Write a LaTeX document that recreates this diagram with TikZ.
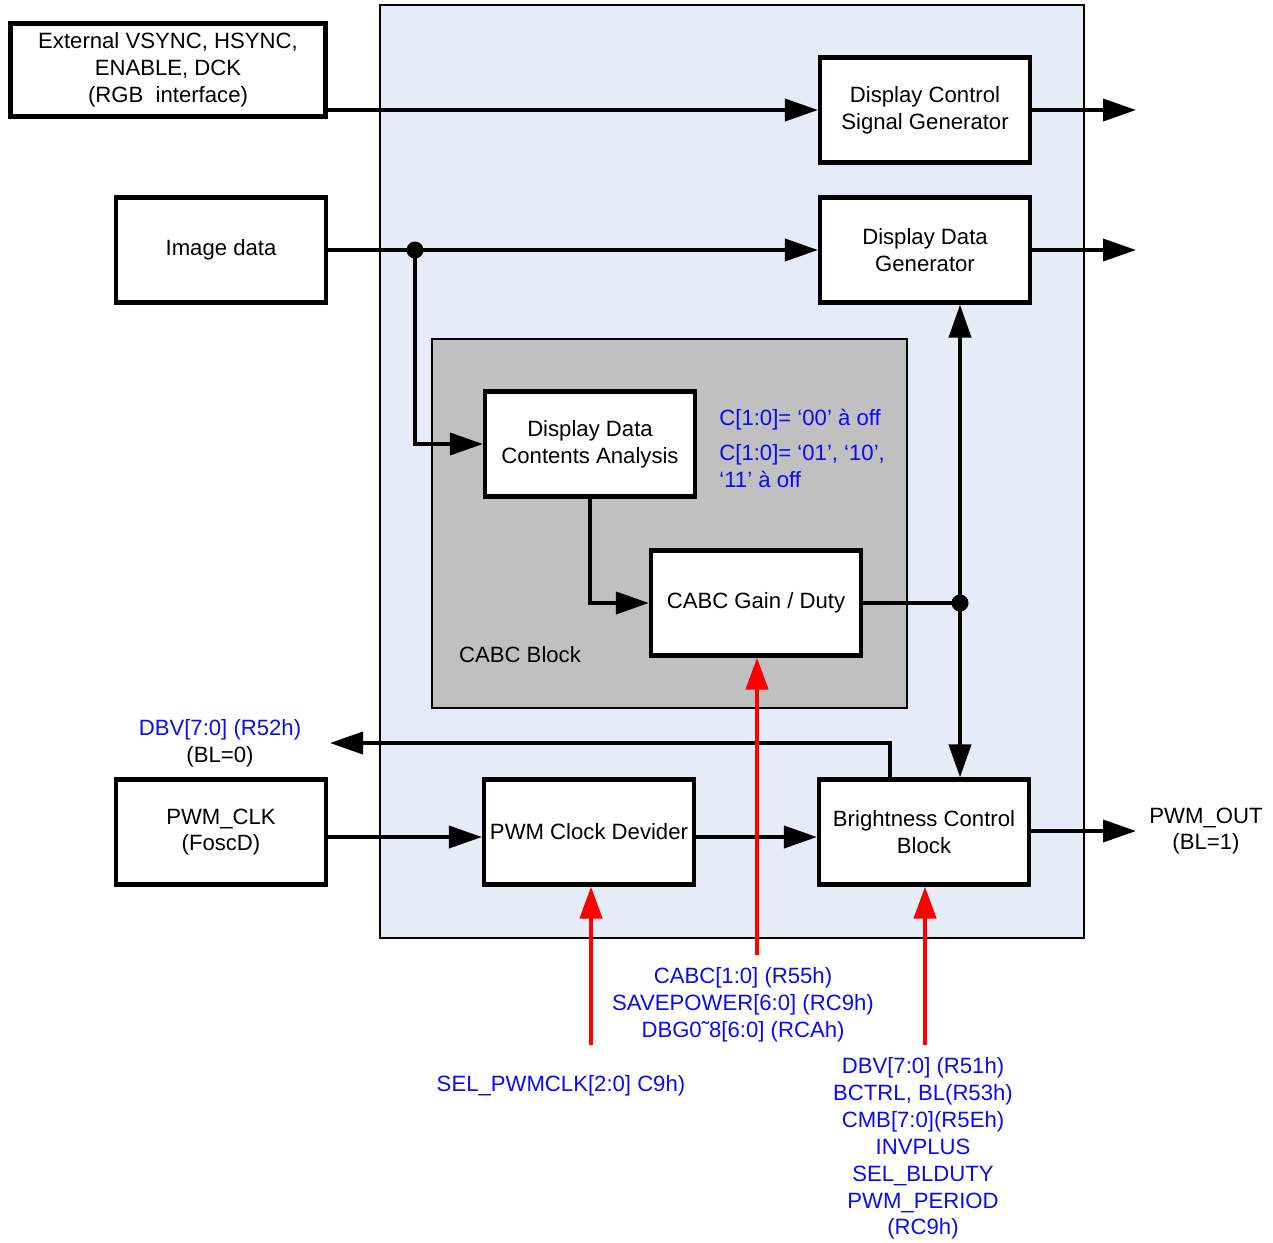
\documentclass[tikz,border=0pt]{standalone}
\usepackage{fontspec}
\setmainfont{Liberation Sans}
\usepackage{tikz}
\usetikzlibrary{arrows.meta,positioning}
\definecolor{panelazul}{RGB}{229,236,247}
\definecolor{grisbloque}{RGB}{192,192,192}
\definecolor{azulreg}{RGB}{10,10,245}
\definecolor{rojoctl}{RGB}{255,0,0}

\begin{document}
\begin{tikzpicture}[
  x=0.02cm,y=-0.02cm,
  every node/.append style={font=\fontsize{12.6}{15.3}\selectfont},
  blk/.style={draw,line width=2.4pt,fill=white,minimum width=4.2cm,
              minimum height=2.1cm,align=center,inner sep=1pt},
  sig/.style={line width=2.2pt,-{Triangle[length=6.6mm,width=4.4mm]}},
  ctl/.style={draw=rojoctl,line width=2.4pt,
              -{Triangle[length=6.4mm,width=4.4mm,fill=rojoctl]}},
  reg/.style={text=azulreg,align=center,inner sep=0pt},
  dot/.style={circle,fill=black,inner sep=0pt,minimum size=0.34cm}
]
\useasboundingbox (0,0) rectangle (1273,1242);

% background panels
\node[draw,line width=0.7pt,fill=panelazul,minimum width=14.08cm,
      minimum height=18.66cm,inner sep=0pt] (panel) at (732,471.5) {};
\node[draw,line width=1.4pt,fill=grisbloque,minimum width=9.5cm,
      minimum height=7.38cm,inner sep=0pt] (cabc) at (669.5,523.5) {};
\node[anchor=center] (cabclbl) at (520,655) {CABC Block};

% blocks
\node[blk,minimum width=6.3cm,minimum height=1.86cm] (ext) at (168,70)
  {External VSYNC, HSYNC,\\ENABLE, DCK\\(RGB\ \ interface)};
\node[blk] (img) at (221,250) {Image data};
\node[blk] (dcsg) at (925,110) {Display Control\\Signal Generator};
\node[blk] (ddg) at (925,250) {Display Data\\Generator};
\node[blk] (ddca) at (590,444) {Display Data\\Contents Analysis};
\node[blk] (gain) at (756,603) {CABC Gain / Duty};
\node[blk] (pwmclk) at (221,832) {PWM\_CLK\\(FoscD)};
\node[blk] (pcd) at (589,832) {PWM Clock Devider};
\node[blk] (bcb) at (924,832) {Brightness Control\\Block};

% free ends and junctions
\coordinate (out1) at (1136,110);
\coordinate (out2) at (1136,250);
\coordinate (out3) at (1136,831);
\coordinate (bl0) at (330,743);
\node[dot] (split) at (415,250) {};
\node[dot] (jn) at (960,603) {};
\coordinate (r1) at (757,955);
\coordinate (r2) at (591,1045);
\coordinate (r3) at (925,1045);

% labels
\node[reg,anchor=west] (c00) at (719,420) {C[1:0]= ‘00’ à off};
\node[reg,anchor=west,align=left] (c01) at (719,466.5)
  {C[1:0]= ‘01’, ‘10’,\\‘11’ à off};
\node[align=center,inner sep=0pt] (blzero) at (220,743)
  {\textcolor{azulreg}{DBV[7:0] (R52h)}\\(BL=0)};
\node[align=center,inner sep=0pt] (blone) at (1206,831) {PWM\_OUT\\(BL=1)};
\node[reg] (cabcreg) at (743,1005)
  {CABC[1:0] (R55h)\\SAVEPOWER[6:0] (RC9h)\\DBG0˜8[6:0] (RCAh)};
\node[reg] (selreg) at (561,1086) {SEL\_PWMCLK[2:0] C9h)};
\node[reg] (bclreg) at (923,1148.5)
  {DBV[7:0] (R51h)\\BCTRL, BL(R53h)\\CMB[7:0](R5Eh)\\INVPLUS\\SEL\_BLDUTY\\PWM\_PERIOD\\(RC9h)};

% connections
\draw[sig] (ext.east |- dcsg.west) -- (dcsg.west);
\draw[sig] (dcsg.east) -- (out1);
\draw[sig] (img.east) -- (ddg.west);
\draw[sig] (split.center) |- (ddca.west);
\draw[sig] (ddg.east) -- (out2);
\draw[sig] (ddca.south) |- (gain.west);
\draw[line width=2.2pt] (gain.east) -- (jn.center);
\draw[sig,{Triangle[length=6.6mm,width=4.4mm]}-{Triangle[length=6.6mm,width=4.4mm]}]
  (ddg.south -| jn) -- (bcb.north -| jn);
\draw[sig] ([xshift=-0.68cm]bcb.north) |- (bl0);
\draw[sig] ([yshift=-0.1cm]pwmclk.east) -- ([yshift=-0.1cm]pcd.west);
\draw[sig] ([yshift=-0.1cm]pcd.east) -- ([yshift=-0.1cm]bcb.west);
\draw[sig] (bcb.east |- out3) -- (out3);
\draw[ctl] (r1) -- (gain.south -| r1);
\draw[ctl] (r2) -- (pcd.south -| r2);
\draw[ctl] (r3) -- (bcb.south -| r3);
\end{tikzpicture}
\end{document}
